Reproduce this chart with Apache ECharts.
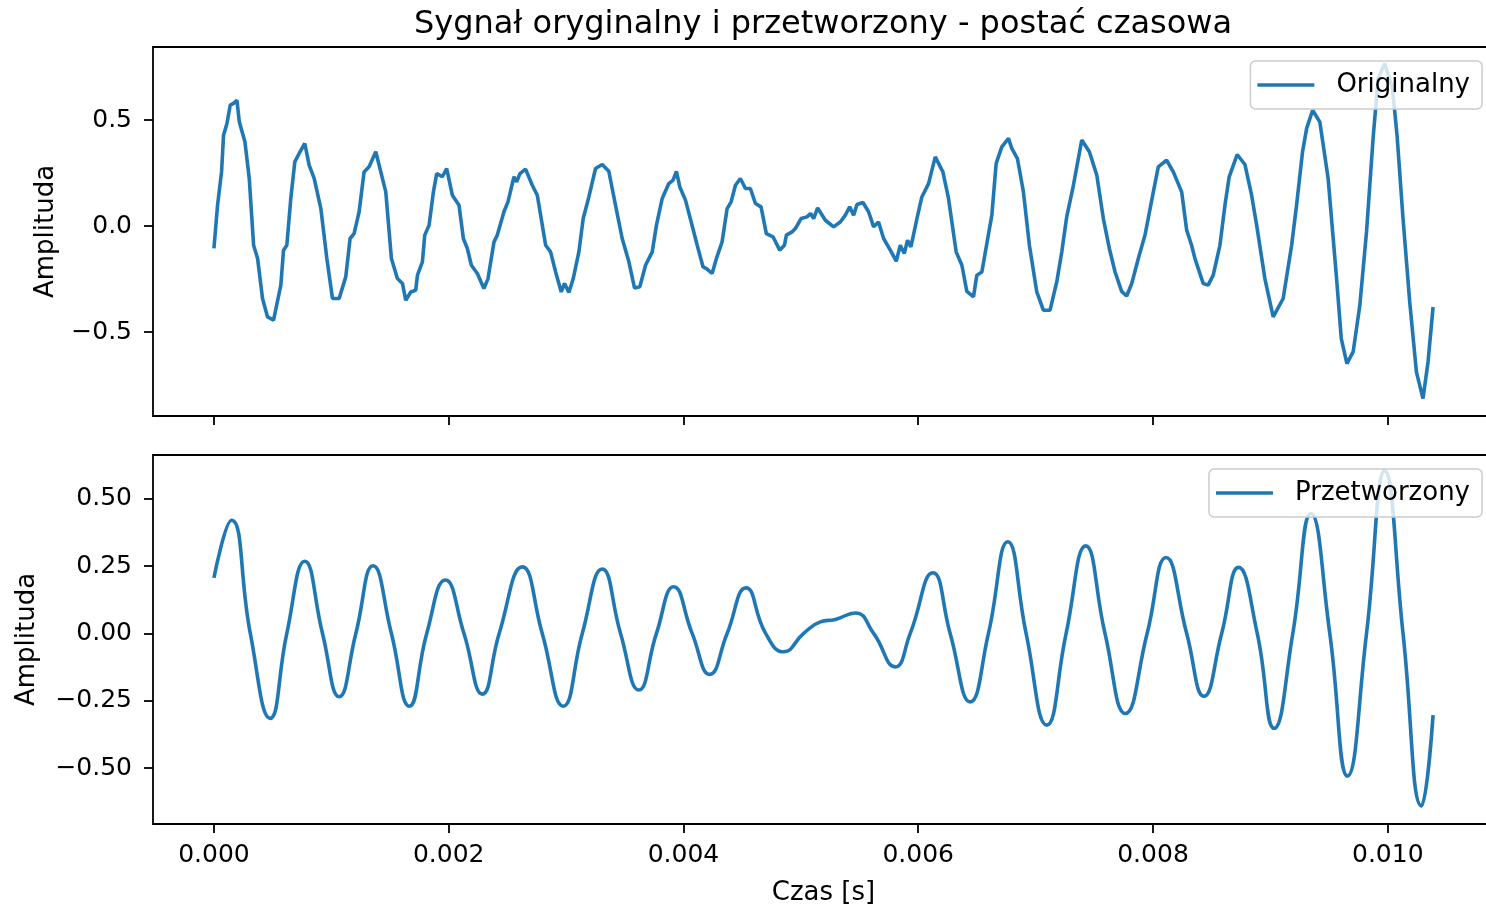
<!DOCTYPE html>
<html>
<head>
<meta charset="utf-8">
<script src="https://cdn.jsdelivr.net/npm/echarts@6/dist/echarts.min.js"></script>
<style>
  html, body { margin: 0; padding: 0; background: #fff; overflow: hidden; }
  #chart { width: 1486px; height: 907px; }
</style>
</head>
<body>
<div id="chart"></div>
<script>
// ---- Data (time in ms, amplitude) ----
const origTime = [
  0.000, 0.031, 0.065, 0.082, 0.111, 0.139, 0.167, 0.196, 0.216, 0.264, 0.301, 0.338, 0.372, 0.414, 0.457, 0.508,
  0.570, 0.593, 0.621, 0.655, 0.689, 0.726, 0.774, 0.811, 0.854, 0.911, 0.962, 1.010, 1.067, 1.123, 1.160, 1.194,
  1.237, 1.279, 1.322, 1.379, 1.464, 1.512, 1.563, 1.606, 1.634, 1.677, 1.719, 1.734, 1.776, 1.796, 1.833, 1.870,
  1.898, 1.946, 1.983, 2.031, 2.088, 2.125, 2.159, 2.193, 2.244, 2.300, 2.335, 2.386, 2.414, 2.471, 2.505, 2.556,
  2.579, 2.607, 2.655, 2.712, 2.755, 2.826, 2.868, 2.911, 2.959, 2.987, 3.024, 3.061, 3.109, 3.146, 3.194, 3.251,
  3.308, 3.364, 3.421, 3.478, 3.535, 3.583, 3.628, 3.677, 3.734, 3.770, 3.819, 3.875, 3.912, 3.940, 3.969, 4.017,
  4.066, 4.117, 4.167, 4.196, 4.244, 4.281, 4.329, 4.372, 4.406, 4.443, 4.485, 4.528, 4.570, 4.613, 4.661, 4.706,
  4.763, 4.820, 4.860, 4.877, 4.925, 4.953, 5.002, 5.053, 5.083, 5.109, 5.143, 5.209, 5.279, 5.336, 5.379, 5.416,
  5.450, 5.478, 5.529, 5.577, 5.620, 5.662, 5.705, 5.762, 5.813, 5.847, 5.881, 5.909, 5.938, 5.989, 6.031, 6.088,
  6.145, 6.210, 6.258, 6.323, 6.372, 6.414, 6.471, 6.499, 6.542, 6.627, 6.664, 6.712, 6.769, 6.797, 6.845, 6.896,
  6.947, 7.010, 7.066, 7.123, 7.180, 7.223, 7.265, 7.322, 7.393, 7.458, 7.521, 7.577, 7.628, 7.677, 7.733, 7.776,
  7.819, 7.875, 7.932, 7.950, 8.003, 8.045, 8.116, 8.173, 8.244, 8.287, 8.329, 8.357, 8.414, 8.428, 8.470, 8.513,
  8.570, 8.613, 8.649, 8.717, 8.783, 8.840, 8.883, 8.953, 9.024, 9.109, 9.181, 9.223, 9.274, 9.309, 9.360, 9.421,
  9.492, 9.564, 9.604, 9.652, 9.705, 9.762, 9.819, 9.875, 9.918, 9.974, 10.040, 10.079, 10.130, 10.187, 10.244, 10.300,
  10.343, 10.386
];
const origAmp = [
  -0.105, 0.099, 0.256, 0.429, 0.484, 0.571, 0.579, 0.594, 0.492, 0.398, 0.225, -0.090, -0.152, -0.341, -0.428, -0.443,
  -0.278, -0.113, -0.090, 0.131, 0.303, 0.343, 0.390, 0.288, 0.225, 0.083, -0.152, -0.341, -0.341, -0.239, -0.058, -0.035,
  0.068, 0.256, 0.280, 0.351, 0.162, -0.152, -0.247, -0.270, -0.349, -0.310, -0.302, -0.231, -0.168, -0.042, 0.005, 0.162,
  0.248, 0.233, 0.272, 0.146, 0.099, -0.058, -0.105, -0.184, -0.223, -0.294, -0.247, -0.074, -0.042, 0.068, 0.115, 0.233,
  0.209, 0.248, 0.269, 0.193, 0.146, -0.090, -0.121, -0.216, -0.310, -0.270, -0.313, -0.247, -0.121, 0.036, 0.138, 0.272,
  0.291, 0.259, 0.099, -0.058, -0.168, -0.291, -0.286, -0.184, -0.121, 0.005, 0.131, 0.201, 0.217, 0.259, 0.185, 0.123,
  0.020, -0.090, -0.192, -0.200, -0.223, -0.152, -0.074, 0.083, 0.115, 0.193, 0.225, 0.178, 0.178, 0.107, 0.091, -0.035,
  -0.050, -0.113, -0.090, -0.042, -0.027, -0.011, 0.036, 0.044, 0.060, 0.036, 0.086, 0.028, -0.003, 0.020, 0.052, 0.091,
  0.052, 0.102, 0.112, 0.068, -0.003, 0.020, -0.058, -0.113, -0.165, -0.090, -0.129, -0.066, -0.098, 0.036, 0.138, 0.201,
  0.327, 0.256, 0.131, -0.121, -0.184, -0.307, -0.333, -0.231, -0.216, 0.052, 0.296, 0.374, 0.414, 0.367, 0.319, 0.162,
  -0.090, -0.310, -0.396, -0.396, -0.263, -0.121, 0.044, 0.193, 0.406, 0.351, 0.241, 0.036, -0.105, -0.216, -0.307, -0.329,
  -0.270, -0.152, -0.042, 0.010, 0.162, 0.280, 0.311, 0.256, 0.162, -0.019, -0.090, -0.152, -0.247, -0.270, -0.278, -0.231,
  -0.090, 0.099, 0.233, 0.338, 0.291, 0.146, 0.005, -0.247, -0.428, -0.341, -0.090, 0.099, 0.351, 0.461, 0.547, 0.492,
  0.225, -0.247, -0.530, -0.648, -0.593, -0.373, -0.027, 0.414, 0.697, 0.767, 0.650, 0.429, 0.036, -0.357, -0.687, -0.813,
  -0.640, -0.381
];
const procTime = [
  0.000, 0.150, 0.310, 0.479, 0.621, 0.774, 0.925, 1.067, 1.209, 1.356, 1.512, 1.665, 1.813, 1.972, 2.130, 2.287,
  2.430, 2.627, 2.797, 2.976, 3.138, 3.308, 3.464, 3.620, 3.770, 3.917, 4.074, 4.224, 4.372, 4.533, 4.700, 4.854,
  5.024, 5.166, 5.294, 5.464, 5.620, 5.804, 5.932, 6.125, 6.272, 6.443, 6.598, 6.763, 6.919, 7.095, 7.260, 7.427,
  7.591, 7.765, 7.950, 8.111, 8.287, 8.434, 8.585, 8.729, 8.888, 9.032, 9.191, 9.345, 9.506, 9.657, 9.819, 9.974,
  10.130, 10.287, 10.386
];
const procAmp = [
  0.206, 0.420, 0.000, -0.315, 0.000, 0.268, 0.000, -0.235, 0.000, 0.251, 0.000, -0.270, 0.000, 0.198, 0.000, -0.225,
  0.000, 0.247, 0.000, -0.270, 0.000, 0.239, 0.000, -0.210, 0.000, 0.173, 0.000, -0.152, 0.000, 0.169, 0.000, -0.068,
  0.000, 0.043, 0.052, 0.076, 0.000, -0.124, 0.000, 0.225, 0.000, -0.254, 0.000, 0.340, 0.000, -0.340, 0.000, 0.325,
  0.000, -0.297, 0.000, 0.282, 0.000, -0.233, 0.000, 0.245, 0.000, -0.352, 0.000, 0.445, 0.000, -0.529, 0.000, 0.603,
  0.000, -0.640, -0.303
];
const xTicks = [0, 2, 4, 6, 8, 10];          // ms
const yTicksTop = [-0.5, 0.0, 0.5];
const yTicksBottom = [-0.5, -0.25, 0.0, 0.25, 0.5];

const titleText = 'Sygnał oryginalny i przetworzony - postać czasowa';
const xName = 'Czas [s]';
const yName = 'Amplituda';
const seriesNames = ['Originalny', 'Przetworzony'];

// ---- Chart ----
const FONT = 'DejaVu Sans';
const BLUE = '#1f77b4';
const TXT = '#000000';
const fmtNum = (v, d) => (v < 0 ? '\u2212' : '') + Math.abs(v).toFixed(d);

const origData = origTime.map((t, i) => [t, origAmp[i]]);
const procData = procTime.map((t, i) => [t, procAmp[i]]);

function xAxisCfg(gridIndex, showLabels) {
  return {
    type: 'value', gridIndex, min: -0.519, max: 10.905, position: 'bottom',
    axisLine: { show: false, onZero: false },
    splitLine: { show: false },
    axisTick: { show: true, customValues: xTicks, length: 9, inside: false, lineStyle: { color: TXT, width: 1.8 } },
    axisLabel: {
      show: showLabels, customValues: xTicks, margin: 19,
      formatter: v => (v / 1000).toFixed(3),
      fontFamily: FONT, fontSize: 25, color: TXT
    },
    name: showLabels ? xName : '', nameLocation: 'middle', nameGap: 56,
    nameTextStyle: { fontFamily: FONT, fontSize: 26, color: TXT }
  };
}
function yAxisCfg(gridIndex, min, max, ticks, dec, gap) {
  return {
    type: 'value', gridIndex, min, max, position: 'left',
    axisLine: { show: false, onZero: false },
    splitLine: { show: false },
    axisTick: { show: true, customValues: ticks, length: 9, lineStyle: { color: TXT, width: 1.8 } },
    axisLabel: {
      customValues: ticks, margin: 21, formatter: v => fmtNum(v, dec),
      fontFamily: FONT, fontSize: 25, color: TXT
    },
    name: yName, nameLocation: 'middle', nameRotate: 90, nameGap: gap,
    nameTextStyle: { fontFamily: FONT, fontSize: 26, color: TXT }
  };
}
function legendCfg(name, top) {
  return {
    data: [name], right: 4, top, orient: 'vertical',
    icon: 'rect', itemWidth: 57, itemHeight: 3.6,
    padding: [11, 12, 11, 7],
    backgroundColor: 'rgba(255,255,255,0.8)', borderColor: '#cccccc', borderWidth: 1.5, borderRadius: 5,
    textStyle: { fontFamily: FONT, fontSize: 26, color: TXT, padding: [0, 0, 0, 17] }
  };
}
function gridCfg(top) {
  return {
    left: 153, width: 1341, top, height: 369, show: true, borderColor: TXT, borderWidth: 1.8,
    containLabel: false, outerBoundsMode: 'none'
  };
}

const chart = echarts.init(document.getElementById('chart'), null, { renderer: 'canvas' });
chart.setOption({
  animation: false,
  backgroundColor: '#ffffff',
  title: {
    text: titleText, left: 823, top: 9, textAlign: 'center', padding: 0,
    textStyle: { fontFamily: FONT, fontSize: 32, fontWeight: 'normal', color: TXT }
  },
  legend: [legendCfg(seriesNames[0], 61), legendCfg(seriesNames[1], 469)],
  grid: [gridCfg(47), gridCfg(455)],
  xAxis: [xAxisCfg(0, false), xAxisCfg(1, true)],
  yAxis: [
    yAxisCfg(0, -0.895, 0.845, yTicksTop, 1, 94),
    yAxisCfg(1, -0.707, 0.662, yTicksBottom, 2, 113)
  ],
  series: [
    {
      name: seriesNames[0], type: 'line', xAxisIndex: 0, yAxisIndex: 0,
      data: origData, showSymbol: false, symbol: 'none',
      lineStyle: { color: BLUE, width: 3.6 }, itemStyle: { color: BLUE }
    },
    {
      name: seriesNames[1], type: 'line', xAxisIndex: 1, yAxisIndex: 1,
      data: procData, showSymbol: false, symbol: 'none', smooth: 0.5,
      lineStyle: { color: BLUE, width: 3.6 }, itemStyle: { color: BLUE }
    }
  ]
});
</script>
</body>
</html>
